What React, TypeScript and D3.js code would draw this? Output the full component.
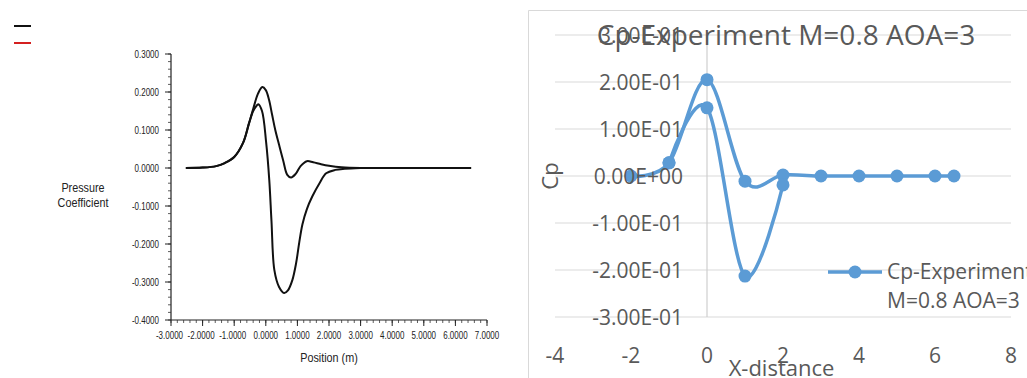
import React from "react";
import * as d3 from "d3";

// ---- Fluent-style XY plot (left) ----
const FL_X_TICKS = [-3, -2, -1, 0, 1, 2, 3, 4, 5, 6, 7];
const FL_Y_TICKS = [0.3, 0.2, 0.1, 0, -0.1, -0.2, -0.3, -0.4];

// leading edge rise shared by both surfaces
const riseX = [-2.53, -2.0, -1.57, -1.3, -1.0, -0.72, -0.53];
const riseCp = [0.0, 0.001, 0.005, 0.013, 0.029, 0.066, 0.118];

// surface with the higher suction peak and shallow dip
const surfAX = [-0.4, -0.25, -0.11, 0.0, 0.1, 0.2, 0.3, 0.42, 0.55, 0.68, 0.8, 0.95, 1.1, 1.3, 1.5, 1.75, 2.0, 2.4, 3.0, 4.0, 5.0, 6.0, 6.5];
const surfACp = [0.155, 0.195, 0.213, 0.205, 0.18, 0.14, 0.1, 0.061, 0.02, -0.018, -0.025, -0.015, 0.005, 0.018, 0.015, 0.01, 0.006, 0.002, 0.0, 0.0, 0.0, 0.0, 0.0];

// surface with the deep negative trough
const surfBX = [-0.4, -0.3, -0.24, -0.12, 0.01, 0.11, 0.18, 0.27, 0.42, 0.58, 0.7, 0.84, 0.96, 1.06, 1.16, 1.3, 1.47, 1.7, 1.91, 2.2, 2.5, 3.0];
const surfBCp = [0.15, 0.163, 0.168, 0.15, 0.068, -0.032, -0.14, -0.268, -0.313, -0.329, -0.322, -0.295, -0.25, -0.195, -0.148, -0.108, -0.075, -0.04, -0.014, -0.005, -0.002, 0.0];

// ---- Excel scatter chart (right) ----
const XL_X_TICKS = [-4, -2, 0, 2, 4, 6, 8];
const XL_Y_TICKS = [-0.3, -0.2, -0.1, 0, 0.1, 0.2, 0.3];

const upperX = [-2, -1, 0, 1, 2, 3, 4, 5, 6, 6.5];
const upperCp = [0.0, 0.028, 0.205, -0.011, 0.002, 0.0, 0.0, 0.0, 0.0, 0.0];
const lowerX = [-1, 0, 1, 2];
const lowerCp = [0.028, 0.145, -0.213, -0.019];

const TITLE = "Cp-Experiment M=0.8 AOA=3";
const LEGEND_LINES = ["Cp-Experiment", "M=0.8 AOA=3"];

const zip = (xs: number[], ys: number[]) => xs.map((x, i) => [x, ys[i]] as [number, number]);

const fl4 = (v: number) => d3.format(".4f")(v).replace("\u2212", "-");
const sci = (v: number) => {
  if (Math.abs(v) < 1e-12) return "0.00E+00";
  const e = Math.floor(Math.log10(Math.abs(v)) + 1e-9);
  const m = v / Math.pow(10, e);
  const ae = Math.abs(e);
  return `${m.toFixed(2)}E${e < 0 ? "-" : "+"}${ae < 10 ? "0" + ae : ae}`;
};

export default function App() {
  // Fluent panel scales
  const xL = d3.scaleLinear().domain([-3, 7]).range([171, 487]);
  const yL = d3.scaleLinear().domain([-0.4, 0.3]).range([320, 54]);
  const lineL = d3
    .line<[number, number]>()
    .x((d) => xL(d[0]))
    .y((d) => yL(d[1]))
    .curve(d3.curveCatmullRom.alpha(0.5));
  const pathA = lineL([...zip(riseX, riseCp), ...zip(surfAX, surfACp)]) || "";
  const pathB = lineL([...zip(riseX, riseCp), ...zip(surfBX, surfBCp)]) || "";

  const xMinor = d3.range(-3, 7.0001, 0.2);
  const yMinor = d3.range(-0.4, 0.3001, 0.02);

  // Excel panel scales
  const xR = d3.scaleLinear().domain([-4, 8]).range([555, 1011]);
  const yR = d3.scaleLinear().domain([-0.3, 0.3]).range([317, 35]);
  const lineR = d3
    .line<[number, number]>()
    .x((d) => xR(d[0]))
    .y((d) => yR(d[1]))
    .curve(d3.curveCatmullRom.alpha(0));
  const upperPts = zip(upperX, upperCp);
  const lowerPts = zip(lowerX, lowerCp);

  const blue = "#5b9bd5";
  const gray = "#595959";
  const xlFont = "'Open Sans', 'Noto Sans', sans-serif";
  const flFont = "'Liberation Sans', Arial, sans-serif";

  return (
    <svg
      width={1027}
      height={378}
      style={{ position: "absolute", left: 0, top: 0, background: "#fff" }}
    >
      <rect x={0} y={0} width={1027} height={378} fill="#fff" />

      {/* ===== Fluent plot ===== */}
      <g>
        <line x1={14} x2={31} y1={26} y2={26} stroke="#111" strokeWidth={2} />
        <line x1={14} x2={31} y1={43} y2={43} stroke="#d42020" strokeWidth={2} />

        {/* axes */}
        <line x1={171} x2={171} y1={yL(0.3)} y2={yL(-0.4)} stroke="#222" strokeWidth={1.2} />
        <line x1={171} x2={487} y1={320} y2={320} stroke="#222" strokeWidth={1.2} />
        {yMinor.map((v, i) => (
          <line key={"ym" + i} x1={168} x2={171} y1={yL(v)} y2={yL(v)} stroke="#333" strokeWidth={0.8} />
        ))}
        {FL_Y_TICKS.map((v) => (
          <line key={"yt" + v} x1={165} x2={171} y1={yL(v)} y2={yL(v)} stroke="#222" strokeWidth={1} />
        ))}
        {xMinor.map((v, i) => (
          <line key={"xm" + i} x1={xL(v)} x2={xL(v)} y1={320} y2={323} stroke="#333" strokeWidth={0.8} />
        ))}
        {FL_X_TICKS.map((v) => (
          <line key={"xt" + v} x1={xL(v)} x2={xL(v)} y1={320} y2={326} stroke="#222" strokeWidth={1} />
        ))}
        {FL_Y_TICKS.map((v) => (
          <text
            key={"yl" + v}
            transform={`translate(159,${yL(v) + 3.5}) scale(0.8,1)`}
            textAnchor="end"
            fontFamily={flFont}
            fontSize={10}
            fill="#222"
          >
            {fl4(v)}
          </text>
        ))}
        {FL_X_TICKS.map((v) => (
          <text
            key={"xl" + v}
            transform={`translate(${xL(v) - (v < 0 ? 1.5 : 0)},339) scale(0.8,1)`}
            textAnchor="middle"
            fontFamily={flFont}
            fontSize={10}
            fill="#222"
          >
            {fl4(v)}
          </text>
        ))}
        <text transform="translate(83,192) scale(0.9,1)" textAnchor="middle" fontFamily={flFont} fontSize={12} fill="#222">
          Pressure
        </text>
        <text transform="translate(83,207) scale(0.9,1)" textAnchor="middle" fontFamily={flFont} fontSize={12} fill="#222">
          Coefficient
        </text>
        <text transform="translate(329,362) scale(0.9,1)" textAnchor="middle" fontFamily={flFont} fontSize={12} fill="#222">
          Position (m)
        </text>

        <path d={pathB} fill="none" stroke="#111" strokeWidth={2} strokeLinejoin="round" />
        <path d={pathA} fill="none" stroke="#111" strokeWidth={2} strokeLinejoin="round" />
      </g>

      {/* ===== Excel chart ===== */}
      <g>
        <path d="M1027.5,10.5 H528.5 V378" fill="none" stroke="#d9d9d9" strokeWidth={1} />
        {XL_Y_TICKS.map((v) => (
          <line key={"g" + v} x1={555} x2={1011} y1={yR(v)} y2={yR(v)} stroke="#d9d9d9" strokeWidth={1.2} />
        ))}
        <line x1={xR(0)} x2={xR(0)} y1={yR(0.3)} y2={yR(-0.3)} stroke="#cfcfcf" strokeWidth={1.2} />

        <path d={lineR(upperPts) || ""} fill="none" stroke={blue} strokeWidth={3.5} strokeLinejoin="round" />
        <path d={lineR(lowerPts) || ""} fill="none" stroke={blue} strokeWidth={3.5} strokeLinejoin="round" />
        {[...upperPts, ...lowerPts].map((p, i) => (
          <circle key={"m" + i} cx={xR(p[0])} cy={yR(p[1])} r={6.5} fill={blue} />
        ))}

        {XL_Y_TICKS.map((v) => (
          <text key={"yr" + v} x={683} y={yR(v) + 8} textAnchor="end" fontFamily={xlFont} fontSize={21} fill={gray}>
            {sci(v)}
          </text>
        ))}
        {XL_X_TICKS.map((v) => (
          <text key={"xr" + v} x={xR(v)} y={363} textAnchor="middle" fontFamily={xlFont} fontSize={21} fill={gray}>
            {v < 0 ? "-" + Math.abs(v) : String(v)}
          </text>
        ))}

        <text x={786} y={45} textAnchor="middle" fontFamily={xlFont} fontSize={28} fill={gray}>
          {TITLE}
        </text>
        <text x={781.5} y={376} textAnchor="middle" fontFamily={xlFont} fontSize={22} fill={gray}>
          X-distance
        </text>
        <text transform="translate(558,176) rotate(-90)" textAnchor="middle" fontFamily={xlFont} fontSize={22} fill={gray}>
          Cp
        </text>

        {/* legend */}
        <line x1={828} x2={882} y1={272} y2={272} stroke={blue} strokeWidth={3.5} />
        <circle cx={855} cy={272} r={6.5} fill={blue} />
        {LEGEND_LINES.map((t, i) => (
          <text key={t} x={887} y={279 + i * 29} fontFamily={xlFont} fontSize={21} fill={gray}>
            {t}
          </text>
        ))}
      </g>
    </svg>
  );
}
